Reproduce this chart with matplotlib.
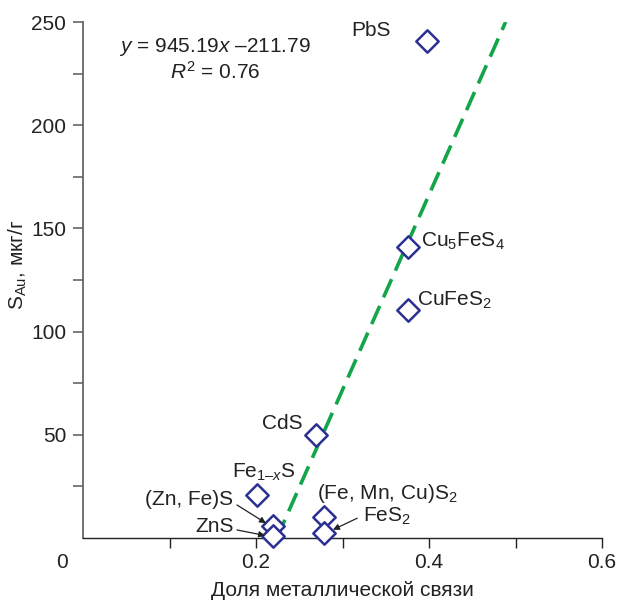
import numpy as np
import matplotlib
matplotlib.use('Agg')
import matplotlib.pyplot as plt

plt.rcParams['font.family'] = ['Liberation Sans', 'DejaVu Sans']
plt.rcParams['mathtext.fontset'] = 'custom'
plt.rcParams['mathtext.rm'] = 'Liberation Sans'
plt.rcParams['mathtext.it'] = 'Liberation Sans:italic'

# metallic bond fraction vs Au content
names = ['PbS', 'Cu5FeS4', 'CuFeS2', 'CdS', 'Fe1-xS', '(Zn,Fe)S', 'ZnS', '(Fe,Mn,Cu)S2', 'FeS2']
bond = [0.398, 0.376, 0.376, 0.269, 0.201, 0.2195, 0.2195, 0.279, 0.279]
s_au = [241, 141, 110.5, 50, 20.8, 5.8, 1.0, 10.0, 2.5]

slope, intercept = 945.19, -211.79
fit_x = [-intercept / slope, (250 - intercept) / slope]

navy = '#2b2f91'
green = '#12a54a'
tc = '#222222'
fs = 15

fig = plt.figure(figsize=(6.18, 6.02), dpi=100)
ax = fig.add_axes([83 / 618, 1 - 538 / 602, (602 - 83) / 618, (538 - 22) / 602])

fx = np.array(fit_x)
ax.plot(fx, slope * fx + intercept, color=green, lw=2.6, dashes=(5.5, 2.6), zorder=2)
ax.scatter(bond, s_au, marker='D', s=130, facecolors='white', edgecolors=navy,
           linewidths=1.8, zorder=3, clip_on=False)

ax.set_xlim(0, 0.6)
ax.set_ylim(0, 250)
for s in ['top', 'right']:
    ax.spines[s].set_visible(False)
ax.spines['left'].set_color('#666666')
ax.spines['left'].set_linewidth(1.3)
ax.spines['bottom'].set_color(tc)
ax.spines['bottom'].set_linewidth(1.0)

xt = [0.1, 0.2, 0.3, 0.4, 0.5, 0.6]
ax.set_xticks(xt)
ax.set_xticklabels(['', '0.2', '', '0.4', '', '0.6'])
yt = list(range(25, 251, 25))
ax.set_yticks(yt)
ax.set_yticklabels([str(v) if v % 50 == 0 else '' for v in yt])
ax.tick_params(axis='x', direction='out', length=7, width=1.0, color=tc,
               labelsize=fs, pad=4, labelcolor=tc)
ax.tick_params(axis='y', direction='out', length=7, width=1.2, color='#666666',
               labelsize=fs, pad=5, labelcolor=tc)
ax.text(-0.024, -12, '0', ha='center', va='center', fontsize=fs, color=tc,
        clip_on=False)

ax.set_xlabel('Доля металлической связи', fontsize=fs, color=tc, labelpad=6)
ax.set_ylabel('$\\mathregular{S_{Au}}$, мкг/г', fontsize=fs, color=tc)
ax.yaxis.set_label_coords(-0.105, 0.53)

ax.text(0.153, 238, '$y$ = 945.19$x$ \u2013211.79', ha='center',
        va='center', fontsize=fs, color=tc)
ax.text(0.153, 226, '$R^2$ = 0.76', ha='center', va='center', fontsize=fs, color=tc)

ax.text(0.333, 246, 'PbS', ha='center', va='center', fontsize=fs, color=tc)
ax.text(0.391, 143.5, 'Cu$_5$FeS$_4$', ha='left', va='center', fontsize=fs, color=tc)
ax.text(0.386, 115, 'CuFeS$_2$', ha='left', va='center', fontsize=fs, color=tc)
ax.text(0.230, 55.5, 'CdS', ha='center', va='center', fontsize=fs, color=tc)
ax.text(0.209, 32, 'Fe$_{1\u2013x}$S', ha='center', va='center', fontsize=fs, color=tc)
ax.text(0.174, 18.5, '(Zn, Fe)S', ha='right', va='center', fontsize=fs, color=tc)
ax.text(0.174, 5.5, 'ZnS', ha='right', va='center', fontsize=fs, color=tc)
ax.text(0.270, 21.5, '(Fe, Mn, Cu)S$_2$', ha='left', va='center', fontsize=fs, color=tc)
ax.text(0.324, 10.5, 'FeS$_2$', ha='left', va='center', fontsize=fs, color=tc)

arrow = dict(arrowstyle='-|>', lw=0.9, color=tc, mutation_scale=9,
             shrinkA=0, shrinkB=0)
ax.annotate('', xy=(0.2115, 7.2), xytext=(0.178, 16), arrowprops=arrow)
ax.annotate('', xy=(0.2105, 1.2), xytext=(0.178, 3.9), arrowprops=arrow)
ax.annotate('', xy=(0.289, 4.0), xytext=(0.317, 9.6), arrowprops=arrow)

fig.savefig('out.png', dpi=100)
